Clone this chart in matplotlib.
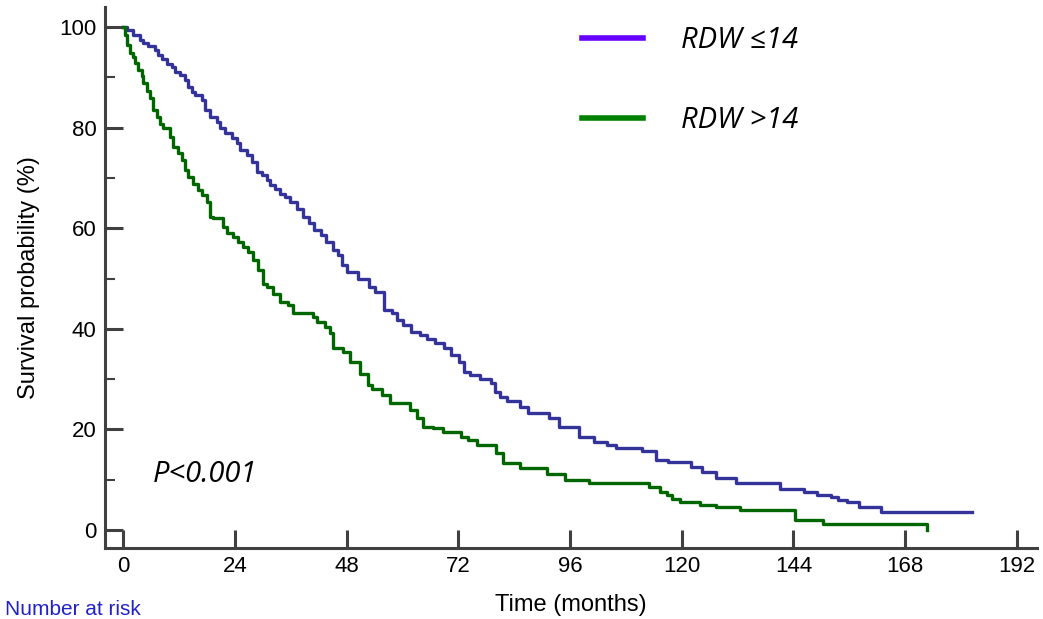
import matplotlib
matplotlib.use('Agg')
from matplotlib import pyplot as plt
from matplotlib.lines import Line2D

# Kaplan-Meier step data: time (months) and survival (%)
low_rdw_time = [0, 0.9, 2.1, 3.7, 4.3, 5.4, 6.9, 7.5, 8.4, 9.5, 10.5, 11.2, 12.2, 13.3, 14.0,
                14.8, 15.5, 17.0, 17.6, 18.7, 20.2, 20.8, 21.9, 23.4, 24.5, 25.1, 26.6, 27.7,
                28.8, 29.9, 30.9, 31.6, 32.6, 33.7, 34.8, 35.9, 37.4, 38.6, 39.9, 41.0, 42.5,
                43.6, 45.0, 46.2, 47.1, 48.1, 50.4, 52.8, 54.1, 56.0, 57.8, 58.9, 60.1, 61.8,
                63.8, 65.3, 67.0, 69.0, 70.5, 72.2, 73.3, 74.5, 76.7, 79.1, 79.9, 81.0, 82.5,
                85.3, 87.0, 91.5, 93.7, 98.0, 101.2, 104.0, 105.9, 111.4, 114.4, 117.0, 122.0,
                124.4, 127.3, 131.7, 141.0, 146.3, 149.0, 152.0, 153.5, 155.5, 158.0, 162.8, 182.3]
low_rdw_surv = [100, 99.4, 98.4, 97.4, 96.8, 96.3, 95.4, 94.4, 93.7, 92.7, 92.0, 91.0, 90.4, 89.4,
                88.0, 87.0, 86.5, 85.5, 83.5, 82.2, 81.2, 79.9, 78.9, 77.9, 76.9, 75.5, 74.5,
                73.2, 71.2, 70.6, 69.6, 68.6, 67.9, 66.9, 66.3, 65.3, 63.9, 62.3, 61.0, 59.6,
                58.6, 57.3, 55.7, 54.7, 52.7, 51.4, 50.0, 48.4, 47.4, 43.7, 43.1, 41.7, 40.8,
                39.4, 38.8, 37.9, 37.1, 36.1, 34.8, 33.5, 31.5, 30.8, 30.0, 29.2, 27.5, 26.5,
                25.6, 24.5, 23.3, 22.3, 20.5, 18.5, 17.5, 16.9, 16.4, 15.7, 13.9, 13.5, 12.6,
                11.5, 10.4, 9.3, 8.2, 7.5, 7.0, 6.5, 6.0, 5.6, 4.6, 3.6, 3.6]

high_rdw_time = [0, 0.4, 0.9, 1.5, 2.1, 2.6, 3.2, 4.1, 4.3, 5.2, 5.8, 6.4, 7.3, 7.9, 8.6, 10.1,
                 10.7, 11.8, 12.7, 13.3, 14.0, 15.0, 16.1, 17.0, 18.0, 18.7, 19.3, 21.5, 22.3,
                 23.6, 24.7, 25.8, 26.8, 27.9, 29.0, 30.1, 30.9, 32.2, 33.7, 35.4, 36.5, 40.8,
                 41.7, 43.4, 44.5, 45.1, 47.2, 48.8, 50.9, 52.6, 53.5, 55.6, 57.3, 61.6, 63.1,
                 64.4, 66.6, 68.7, 72.6, 74.0, 76.0, 80.0, 81.6, 85.3, 91.0, 95.0, 100.0, 113.0,
                 115.3, 116.8, 118.0, 119.6, 124.0, 127.3, 132.5, 144.3, 150.4, 172.6]
high_rdw_surv = [100, 98.4, 96.5, 94.8, 94.1, 92.8, 91.5, 90.2, 88.8, 87.2, 85.9, 83.5, 82.2, 80.8,
                 79.9, 78.2, 76.2, 74.9, 73.6, 71.6, 70.2, 68.9, 67.6, 66.6, 65.3, 62.3, 62.0,
                 60.3, 59.0, 58.3, 57.3, 56.3, 55.3, 53.7, 51.7, 49.0, 48.4, 47.0, 45.4, 44.7,
                 43.1, 42.4, 41.4, 40.4, 39.1, 36.1, 35.4, 33.4, 31.1, 28.8, 28.1, 26.8, 25.2,
                 23.9, 22.2, 20.5, 20.2, 19.5, 18.5, 17.9, 17.0, 15.3, 13.3, 12.3, 11.1, 9.9,
                 9.4, 8.6, 7.6, 7.0, 6.2, 5.6, 5.0, 4.5, 4.0, 2.0, 1.1, 0]

x_ticks = [0, 24, 48, 72, 96, 120, 144, 168, 192]
y_ticks = [0, 20, 40, 60, 80, 100]
y_minor = [10, 30, 50, 70, 90]

plt.rcParams['font.family'] = ['Liberation Sans', 'DejaVu Sans']
axis_col = '#404040'

fig = plt.figure(figsize=(10.43, 6.19), dpi=100)
ax = fig.add_axes([105 / 1043, 71 / 619, 932 / 1043, 541 / 619])

ax.step(low_rdw_time, low_rdw_surv, where='post', color='#333399', linewidth=2.4)
ax.step(high_rdw_time, high_rdw_surv, where='post', color='#006600', linewidth=2.4)

ax.set_xlim(-3.87, 196.3)
ax.set_ylim(-3.58, 104.0)
for side in ['top', 'right']:
    ax.spines[side].set_visible(False)
for side in ['left', 'bottom']:
    ax.spines[side].set_color(axis_col)
    ax.spines[side].set_linewidth(2.2)

ax.set_xticks(x_ticks)
ax.set_yticks(y_ticks)
ax.set_yticks(y_minor, minor=True)
ax.tick_params(axis='both', which='major', direction='in', length=13, width=2.2,
               color=axis_col, labelsize=16, pad=6)
ax.tick_params(axis='y', which='minor', direction='in', length=7, width=1.5, color=axis_col)

ax.set_xlabel('Time (months)', fontsize=17, labelpad=12)
ax.set_ylabel('Survival probability (%)', fontsize=17, labelpad=14)

# legend uses brighter colours than the curves, as in the original
handles = [Line2D([], [], color='#6600ff', linewidth=4),
           Line2D([], [], color='#008000', linewidth=4)]
leg_font = {'family': ['Open Sans', 'DejaVu Sans'], 'style': 'italic', 'size': 21}
ax.legend(handles, ['RDW ≤14', 'RDW >14'], loc='upper left', bbox_to_anchor=(0.512, 0.965),
          frameon=False, prop=leg_font, handlelength=2.1, handletextpad=1.3,
          labelspacing=1.75, borderaxespad=0, borderpad=0)

ax.text(0.051, 0.135, 'P<0.001', transform=ax.transAxes, va='center', ha='left',
        fontsize=21, style='italic', family=['Open Sans', 'DejaVu Sans'])

# caption that sits at the very bottom edge in the original
fig.text(5 / 1043, 19 / 619, 'Number at risk', color='#2222cc', fontsize=15, va='top', ha='left')

fig.savefig('out.png', dpi=100)
